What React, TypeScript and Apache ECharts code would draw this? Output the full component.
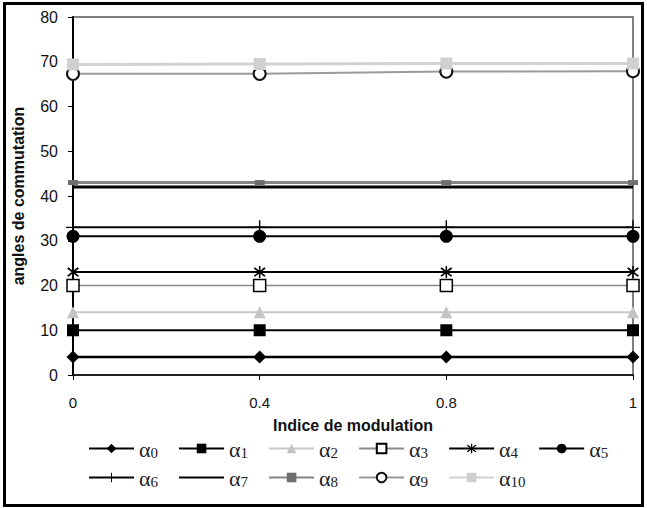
import React, { useEffect, useRef } from "react";
import * as echarts from "echarts";

const categories = ["0", "0.4", "0.8", "1"];
const yTicks = { min: 0, max: 80, interval: 10 };

const alpha0 = [4, 4, 4, 4];
const alpha1 = [10, 10, 10, 10];
const alpha2 = [14, 14, 14, 14];
const alpha3 = [20, 20, 20, 20];
const alpha4 = [23, 23, 23, 23];
const alpha5 = [31, 31, 31, 31];
const alpha6 = [33, 33, 33, 33];
const alpha7 = [42, 42, 42, 42];
const alpha8 = [43, 43, 43, 43];
const alpha9 = [67.3, 67.3, 67.8, 67.9];
const alpha10 = [69.4, 69.5, 69.6, 69.6];

const seriesNames = ["α0", "α1", "α2", "α3", "α4", "α5", "α6", "α7", "α8", "α9", "α10"];
const legendRow1 = ["α0", "α1", "α2", "α3", "α4", "α5"];
const legendRow2 = ["α6", "α7", "α8", "α9", "α10"];

const PLUS = "path://M9,0H11V20H9Z M0,9H20V11H0Z";
const STAR =
  "path://M9,0H11V20H9Z M3.9,2.1L17.9,16.1L16.1,17.9L2.1,3.9Z M16.1,2.1L17.9,3.9L3.9,17.9L2.1,16.1Z";

export default function App() {
  const ref = useRef<HTMLDivElement>(null);
  useEffect(() => {
    if (!ref.current) return;
    const chart = echarts.init(ref.current, null, { renderer: "svg" });
    const values = [alpha0, alpha1, alpha2, alpha3, alpha4, alpha5, alpha6, alpha7, alpha8, alpha9, alpha10];
    const styles: any[] = [
      { line: "#000", lw: 2.5, symbol: "diamond", size: 13, fill: "#000", border: "#000", bw: 0 },
      { line: "#000", lw: 2, symbol: "rect", size: 12, fill: "#000", border: "#000", bw: 0 },
      { line: "#c8c8c8", lw: 2, symbol: "triangle", size: 12, fill: "#c4c4c4", border: "#c4c4c4", bw: 0 },
      { line: "#8a8a8a", lw: 1.5, symbol: "rect", size: 12, fill: "#fff", border: "#000", bw: 1.5 },
      { line: "#000", lw: 2, symbol: STAR, size: 12, fill: "#000", border: "#000", bw: 0 },
      { line: "#000", lw: 2, symbol: "circle", size: 13, fill: "#000", border: "#000", bw: 0 },
      { line: "#000", lw: 2, symbol: PLUS, size: 14, fill: "#000", border: "#000", bw: 0 },
      { line: "#000", lw: 3, symbol: "circle", size: 1, fill: "rgba(0,0,0,0)", border: "rgba(0,0,0,0)", bw: 0, hide: true },
      { line: "#858585", lw: 3, symbol: "rect", size: [10, 5], fill: "#6e6e6e", border: "#6e6e6e", bw: 0 },
      { line: "#9a9a9a", lw: 2, symbol: "circle", size: 12, fill: "#fff", border: "#111", bw: 2 },
      { line: "#d2d2d2", lw: 3, symbol: "rect", size: 12, fill: "#d0d0d0", border: "#d0d0d0", bw: 0 },
    ];
    const series = seriesNames.map((name, i) => ({
      name,
      type: "line",
      data: values[i],
      symbol: styles[i].symbol,
      symbolSize: styles[i].size,
      showSymbol: !styles[i].hide,
      lineStyle: { color: styles[i].line, width: styles[i].lw },
      itemStyle: { color: styles[i].fill, borderColor: styles[i].border, borderWidth: styles[i].bw },
      emphasis: { disabled: true },
      z: 3 + i,
    }));
    const legendCommon = {
      itemWidth: 45,
      itemHeight: 12,
      itemGap: 20,
      padding: 0,
      orient: "horizontal",
      formatter: (name: string) => `{a|α}{s|${name.slice(1)}}`,
      textStyle: {
        color: "#222",
        rich: {
          a: { fontFamily: "Liberation Serif", fontSize: 22, color: "#222", verticalAlign: "bottom" },
          s: { fontFamily: "Liberation Serif", fontSize: 15, color: "#222", verticalAlign: "bottom", padding: [8, 0, 0, 0] },
        },
      },
      selectedMode: false,
    };
    chart.setOption({
      animation: false,
      backgroundColor: "#fff",
      grid: {
        left: 73,
        right: 14,
        top: 17,
        bottom: 133,
        show: true,
        borderColor: "#555",
        borderWidth: 1.5,
        containLabel: false,
      },
      xAxis: {
        type: "category",
        data: categories,
        boundaryGap: false,
        axisLine: { lineStyle: { color: "#000", width: 1.5 } },
        axisTick: { show: true, length: 5, lineStyle: { color: "#000" } },
        axisLabel: { color: "#111", fontFamily: "Liberation Sans", fontSize: 15, margin: 20 },
        name: "Indice de modulation",
        nameLocation: "middle",
        nameGap: 42,
        nameTextStyle: { fontFamily: "Liberation Sans", fontWeight: "bold", fontSize: 16, color: "#111" },
        splitLine: { show: false },
      },
      yAxis: {
        type: "value",
        min: yTicks.min,
        max: yTicks.max,
        interval: yTicks.interval,
        axisLine: { show: true, lineStyle: { color: "#000", width: 2 } },
        axisTick: { show: true, length: 5, lineStyle: { color: "#000" } },
        axisLabel: { color: "#111", fontFamily: "Liberation Sans", fontSize: 16, margin: 15 },
        splitLine: { show: false },
        name: "angles de commutation",
        nameLocation: "middle",
        nameGap: 47,
        nameTextStyle: { fontFamily: "Liberation Sans", fontWeight: "bold", fontSize: 16, color: "#111" },
      },
      legend: [
        { ...legendCommon, data: legendRow1, left: 88, top: 438 },
        { ...legendCommon, data: legendRow2, left: 88, top: 467 },
      ],
      graphic: [
        {
          type: "rect",
          shape: { x: 4.5, y: 3.5, width: 638, height: 502 },
          style: { fill: "none", stroke: "#000", lineWidth: 3 },
          silent: true,
          z: 100,
        },
      ],
      series,
    });
    return () => chart.dispose();
  }, []);
  return (
    <div
      ref={ref}
      style={{ position: "fixed", left: 0, top: 0, width: 647, height: 508, background: "#fff" }}
    />
  );
}
